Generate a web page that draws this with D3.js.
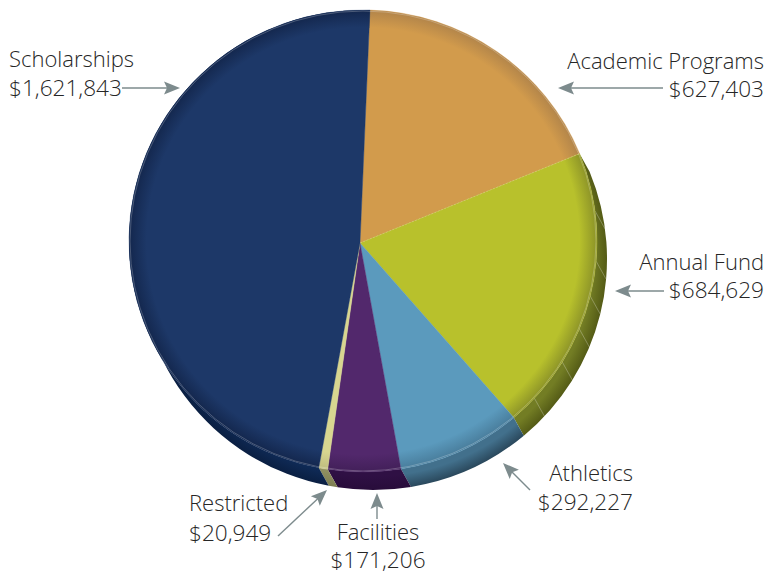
<!DOCTYPE html>
<html><head><meta charset="utf-8">
<script src="https://cdn.jsdelivr.net/npm/d3@7/dist/d3.min.js"></script>
<style>html,body{margin:0;padding:0;background:#fff}svg{display:block}</style>
</head><body><div id="chart"></div>
<script>
const categories = ["Academic Programs","Annual Fund","Athletics","Facilities","Restricted","Scholarships"];
const values = [627403,684629,292227,171206,20949,1621843];
const facetDegrees = [82.5,95,103.8,112.4,121.6,132.9];

const W=767,H=574,cx=363,cy=241,Rx=234,Ry=231,ax=360,ay=243,dx=10,dy=18;
const startDeg=1.7;
const topColors=["#d29b4c","#b8c12c","#5b9abd","#52286c","#d8d690","#1d3868"];
const rimColors=["#b4864a","#8f9628","#4a7f9e","#43205a","#c0be80","#14284f"];
const sideA=["#8a6a30","#737d24","#42708c","#2f1044","#8f8f60","#0f2a56"];
const sideB=["#6a5020","#545b16","#2a485c","#280c3a","#7e7e52","#0a1f42"];
const layout=[
 {lines:[[764,69,"end"],[764,97,"end"]],arrow:[663,88,558,88]},
 {lines:[[764,270,"end"],[764,298,"end"]],arrow:[664,291,615,291]},
 {lines:[[633,481,"end"],[633,510,"end"]],arrow:[530,490,503,463]},
 {lines:[[378,540,"middle"],[378,568,"middle"]],arrow:[377,519,377,493]},
 {lines:[[189,511,"start"],[189,541,"start"]],arrow:[278,536,327,490]},
 {lines:[[9,67,"start"],[9,96,"start"]],arrow:[122,88,180,88]}
];

const svg=d3.select("#chart").append("svg").attr("width",W).attr("height",H).attr("viewBox",`0 0 ${W} ${H}`);
const defs=svg.append("defs");
const rad=d=>d*Math.PI/180;
const pie=d3.pie().sort(null).startAngle(rad(startDeg)).endAngle(rad(startDeg+360));
const slices=pie(values);
const pt=a=>[cx+Rx*Math.sin(a),cy-Ry*Math.cos(a)];
const large=(a0,a1)=>(a1-a0>Math.PI?1:0);

slices.forEach((s,i)=>{
  const rg=defs.append("radialGradient").attr("id","top"+i).attr("gradientUnits","userSpaceOnUse")
    .attr("cx",0).attr("cy",0).attr("r",1)
    .attr("gradientTransform",`translate(${cx},${cy}) scale(${Rx},${Ry})`);
  rg.append("stop").attr("offset",0.925).attr("stop-color",topColors[i]);
  rg.append("stop").attr("offset",0.995).attr("stop-color",rimColors[i]);
  const sg=defs.append("radialGradient").attr("id","side"+i).attr("gradientUnits","userSpaceOnUse")
    .attr("cx",0).attr("cy",0).attr("r",1)
    .attr("gradientTransform",`translate(${cx+dx},${cy+dy}) scale(${Rx},${Ry})`);
  sg.append("stop").attr("offset",0.94).attr("stop-color",sideA[i]);
  sg.append("stop").attr("offset",1).attr("stop-color",sideB[i]);
});

function sidePath(a0,a1){
  const s=pt(a0),e=pt(a1);
  return `M${s}L${s[0]+dx},${s[1]+dy}A${Rx},${Ry} 0 ${large(a0,a1)} 1 ${e[0]+dx},${e[1]+dy}L${e}A${Rx},${Ry} 0 ${large(a0,a1)} 0 ${s}Z`;
}
function facePath(a0,a1){
  const s=pt(a0),e=pt(a1);
  return `M${ax},${ay}L${s}A${Rx},${Ry} 0 ${large(a0,a1)} 1 ${e}Z`;
}
const sideSegs=slices.map((s,i)=>({s,i})).filter(d=>d.i!==0);
svg.append("g").selectAll("path").data(sideSegs).join("path")
  .attr("d",d=>sidePath(d.s.startAngle,d.s.endAngle))
  .attr("fill",d=>`url(#side${d.i})`);
svg.append("g").selectAll("line").data(facetDegrees).join("line")
  .each(function(d){
    const p=pt(rad(d));
    d3.select(this).attr("x1",p[0]).attr("y1",p[1]).attr("x2",p[0]+dx).attr("y2",p[1]+dy);
  }).attr("stroke","#fff").attr("stroke-opacity",0.45).attr("stroke-width",0.6);

const face=svg.append("g");
face.selectAll("path").data(slices).join("path")
  .attr("d",d=>facePath(d.startAngle,d.endAngle)).attr("fill",(d,i)=>`url(#top${i})`)
  .attr("stroke",(d,i)=>topColors[i]).attr("stroke-width",0.4);
face.selectAll("path.seam").data(slices.slice(0,1)).join("path").attr("class","seam")
  .attr("d",d=>{const p=pt(d.endAngle);return `M${ax},${ay}L${p}`;})
  .attr("stroke","#e8cfa0").attr("stroke-width",0.6).attr("stroke-dasharray","2 1.5").attr("fill","none").attr("opacity",0.7);
face.append("ellipse").attr("cx",cx).attr("cy",cy).attr("rx",Rx-1).attr("ry",Ry-1).attr("fill","none").attr("stroke","#fff")
  .attr("stroke-opacity",0.4).attr("stroke-width",0.6);

const arrows=svg.append("g");
layout.forEach(l=>{
  const [x1,y1,x2,y2]=l.arrow;
  const ang=Math.atan2(y2-y1,x2-x1);
  const g=arrows.append("g").attr("transform",`translate(${x2},${y2}) rotate(${ang*180/Math.PI})`);
  const len=Math.hypot(x2-x1,y2-y1);
  g.append("line").attr("x1",-len).attr("x2",-12).attr("stroke","#7d8b8d").attr("stroke-width",1.4);
  g.append("path").attr("d","M0,0L-16,-6.5L-13,0L-16,6.5Z").attr("fill","#7d8b8d");
});

const money=d3.format("$,");
const txt=svg.append("g").attr("font-family","'Open Sans',sans-serif").attr("font-weight",300).attr("fill","#262626");
categories.forEach((c,i)=>{
  const [a,b]=layout[i].lines;
  txt.append("text").attr("x",a[0]).attr("y",a[1]).attr("text-anchor",a[2]).attr("font-size",22).text(c);
  txt.append("text").attr("x",b[0]).attr("y",b[1]).attr("text-anchor",b[2]).attr("font-size",22.6).text(money(values[i]));
});
</script></body></html>
